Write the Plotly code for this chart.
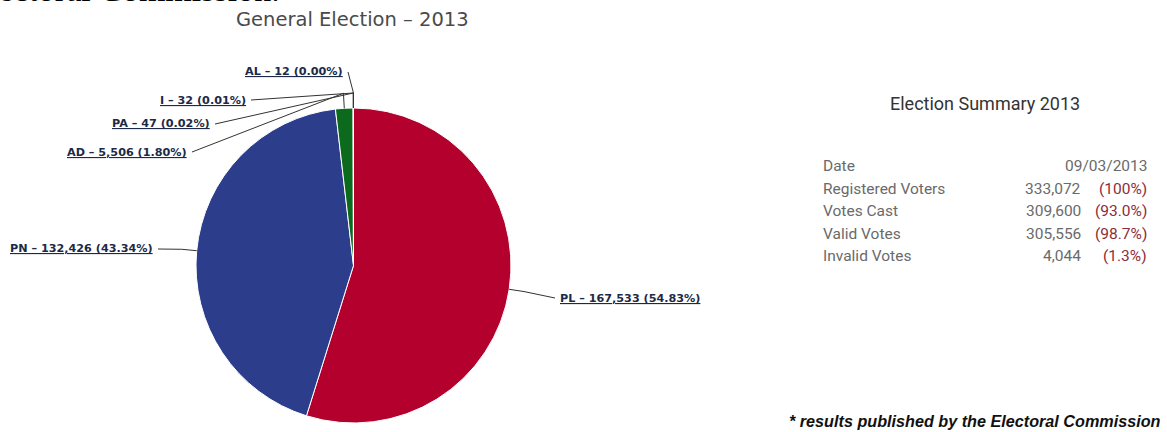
import math
import plotly.graph_objects as go

# ---- data ----
parties = ["PL", "PN", "AD", "PA", "I", "AL"]
votes = [167533, 132426, 5506, 47, 32, 12]
pcts = ["54.83%", "43.34%", "1.80%", "0.02%", "0.01%", "0.00%"]
colors = ["#B3002D", "#2B3D8B", "#0B6A1C", "#6A8F3A", "#5b7fbf", "#cc8a2a"]

summary_labels = ["Date", "Registered Voters", "Votes Cast", "Valid Votes", "Invalid Votes"]
summary_values = ["", "333,072", "309,600", "305,556", "4,044"]
summary_pcts = ["09/03/2013", "(100%)", "(93.0%)", "(98.7%)", "(1.3%)"]

W, H = 1167, 432


def px(x):
    return x / W


def py(y):
    return 1 - y / H


# pie geometry (pixels)
CX, CY, R = 353.5, 265.5, 157.5

fig = go.Figure()
fig.add_trace(go.Pie(
    labels=parties, values=votes, sort=False, direction="clockwise", rotation=0,
    marker=dict(colors=colors, line=dict(color="white", width=1)),
    textinfo="none", hoverinfo="label+value+percent", showlegend=False,
    domain=dict(x=[px(CX - R), px(CX + R)], y=[py(CY + R), py(CY - R)]),
))

# label placement (pixels): (x, y, side)
label_pos = {
    "PL": (558, 298, "left"),
    "PN": (155, 249, "right"),
    "AD": (189, 152, "right"),
    "PA": (212, 124, "right"),
    "I": (248, 100, "right"),
    "AL": (345, 72, "right"),
}

total = sum(votes)
annotations = []
shapes = []
cum = 0
for p, v, pc in zip(parties, votes, pcts):
    mid = (cum + v / 2) / total * 2 * math.pi
    cum += v
    ax_ = CX + R * math.sin(mid)
    ay_ = CY - R * math.cos(mid)
    ex = CX + (R + 15) * math.sin(mid)
    ey = CY - (R + 15) * math.cos(mid)
    lx, ly, side = label_pos[p]
    tx = lx - 3 if side == "left" else lx + 3
    shapes.append(dict(
        type="path", xref="paper", yref="paper",
        path=f"M {px(tx)} {py(ly)} L {px(ex)} {py(ey)} L {px(ax_)} {py(ay_)}",
        line=dict(color="#333333", width=1),
    ))
    annotations.append(dict(
        x=px(lx), y=py(ly), xref="paper", yref="paper", xanchor=side, yanchor="middle",
        text=f"<b><u>{p} – {v:,} ({pc})</u></b>", showarrow=False,
        font=dict(family="DejaVu Sans", size=11.2, color="#1c2a48"),
    ))

# cropped heading from the page above (only its lower edge is visible)
annotations.append(dict(
    x=px(282), y=py(10), xref="paper", yref="paper", xanchor="right", yanchor="bottom",
    text="Electoral Commission.", showarrow=False,
    font=dict(family="Liberation Serif", size=34, color="#000000"),
))

# chart title
annotations.append(dict(
    x=px(352), y=py(20), xref="paper", yref="paper", xanchor="center", yanchor="middle",
    text="General Election – 2013", showarrow=False,
    font=dict(family="DejaVu Sans", size=19.5, color="#4a4a4a"),
))

# summary panel
annotations.append(dict(
    x=px(985), y=py(103), xref="paper", yref="paper", xanchor="center", yanchor="middle",
    text="Election Summary 2013", showarrow=False,
    font=dict(family="Roboto", size=18, color="#333333"),
))
for i, (lab, val, pc) in enumerate(zip(summary_labels, summary_values, summary_pcts)):
    yy = 166 + 22.5 * i
    annotations.append(dict(
        x=px(821), y=py(yy), xref="paper", yref="paper", xanchor="left", yanchor="middle",
        text=lab, showarrow=False, font=dict(family="Roboto", size=15.5, color="#6a6a6a"),
    ))
    if val:
        annotations.append(dict(
            x=px(1083), y=py(yy), xref="paper", yref="paper", xanchor="right", yanchor="middle",
            text=val, showarrow=False, font=dict(family="Roboto", size=15.5, color="#6a6a6a"),
        ))
    annotations.append(dict(
        x=px(1149), y=py(yy), xref="paper", yref="paper", xanchor="right", yanchor="middle",
        text=pc, showarrow=False,
        font=dict(family="Roboto", size=15.5, color="#6a6a6a" if i == 0 else "#8e2c3a"),
    ))

annotations.append(dict(
    x=px(1163), y=py(421), xref="paper", yref="paper", xanchor="right", yanchor="middle",
    text="<b><i>* results published by the Electoral Commission</i></b>", showarrow=False,
    font=dict(family="Liberation Sans", size=16.2, color="#111111"),
))

fig.update_layout(
    width=W, height=H, margin=dict(l=0, r=0, t=0, b=0),
    paper_bgcolor="white", plot_bgcolor="white",
    annotations=annotations, shapes=shapes,
)

fig.write_html(
    "out.html",
    config={"displayModeBar": False},
    post_script="document.body.style.margin='0';document.body.style.overflow='hidden';",
)
